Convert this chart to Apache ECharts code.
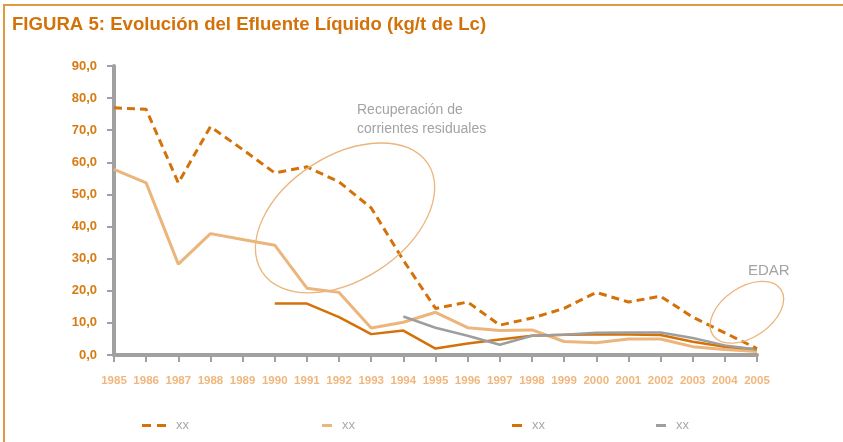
<!DOCTYPE html>
<html>
<head>
<meta charset="utf-8">
<script src="https://cdn.jsdelivr.net/npm/echarts@6/dist/echarts.min.js"></script>
<style>
html,body{margin:0;padding:0;background:#fff;}
#c{width:843px;height:442px;}
</style>
</head>
<body>
<div id="c"></div>
<script>
const years = ['1985','1986','1987','1988','1989','1990','1991','1992','1993','1994','1995','1996','1997','1998','1999','2000','2001','2002','2003','2004','2005'];
const seriesDashed = [77.0, 76.5, 53.6, 71.1, 64.0, 56.7, 58.6, 53.9, 45.8, 29.5, 14.5, 16.5, 9.3, 11.5, 14.5, 19.5, 16.5, 18.3, 11.8, 6.9, 2.0];
const seriesLight  = [57.8, 53.6, 28.3, 37.8, 36.0, 34.2, 20.8, 19.5, 8.4, 10.2, 13.3, 8.5, 7.6, 7.8, 4.2, 3.8, 5.0, 5.0, 2.6, 1.7, 1.1];
const seriesDark   = [null, null, null, null, null, 16.0, 16.0, 11.8, 6.5, 7.6, 2.0, 3.6, 4.8, 6.0, 6.3, 6.4, 6.4, 6.2, 4.1, 2.6, 1.8];
const seriesGray   = [null, null, null, null, null, null, null, null, null, 12.0, 8.5, 6.0, 3.2, 6.0, 6.3, 6.9, 7.0, 7.0, 5.3, 3.0, 1.7];
const legendNames = ['xx','xx','xx','xx'];
const titleText = 'FIGURA 5: Evolución del Efluente Líquido (kg/t de Lc)';

const C_DARK = '#d4720a', C_LIGHT = '#ebb57b', C_GRAY = '#9e9e9e', C_AXIS = '#a0a0a0';

const chart = echarts.init(document.getElementById('c'));
function mkLegend(seriesName, label, left, dashed, color) {
  return {
    data: [seriesName], left: left, top: 414,
    itemWidth: dashed ? 24 : 10, itemHeight: 3,
    icon: dashed ? 'path://M0,0h9v3h-9z M15,0h9v3h-9z' : 'rect',
    itemStyle: {color: color},
    formatter: () => label,
    textStyle: {color: '#a9a9a9', fontSize: 13, fontFamily: 'Liberation Sans', padding: [0,0,0,5]},
    selectedMode: false
  };
}
const option = {
  animation: false,
  title: {text: titleText, left: 7, top: 10,
    textStyle: {fontFamily: 'Liberation Sans', fontWeight: 'bold', fontSize: 18.6, color: C_DARK}},
  grid: {left: 114, right: 86, top: 66, bottom: 87},
  legend: [
    mkLegend('A', legendNames[0], 137, true, C_DARK),
    mkLegend('B', legendNames[1], 317, false, C_LIGHT),
    mkLegend('C', legendNames[2], 507, false, C_DARK),
    mkLegend('D', legendNames[3], 651, false, C_GRAY)
  ],
  xAxis: {
    type: 'category', data: years, boundaryGap: false,
    axisLine: {lineStyle: {color: C_AXIS, width: 4}},
    axisTick: {show: true, length: 7, lineStyle: {color: C_AXIS, width: 2}},
    axisLabel: {interval: 0, margin: 20, color: '#f0b67c', fontSize: 11.5, fontWeight: 'bold', fontFamily: 'Liberation Sans'}
  },
  yAxis: {
    type: 'value', min: 0, max: 90, interval: 10,
    splitLine: {show: false},
    axisLine: {show: true, lineStyle: {color: C_AXIS, width: 4}},
    axisTick: {show: true, length: 7, lineStyle: {color: C_AXIS, width: 2}},
    axisLabel: {margin: 17, color: '#d87a12', fontSize: 13, fontWeight: 'bold', fontFamily: 'Liberation Sans',
      formatter: v => v.toFixed(1).replace('.', ',')}
  },
  series: [
    {name: 'A', type: 'line', data: seriesDashed, symbol: 'none', z: 5,
      lineStyle: {color: C_DARK, width: 3, type: [8,5]}, itemStyle: {color: C_DARK}},
    {name: 'B', type: 'line', data: seriesLight, symbol: 'none', z: 3,
      lineStyle: {color: C_LIGHT, width: 3}, itemStyle: {color: C_LIGHT}},
    {name: 'C', type: 'line', data: seriesDark, symbol: 'none', z: 4,
      lineStyle: {color: C_DARK, width: 2.5}, itemStyle: {color: C_DARK}},
    {name: 'D', type: 'line', data: seriesGray, symbol: 'none', z: 4,
      lineStyle: {color: C_GRAY, width: 2.5}, itemStyle: {color: C_GRAY}}
  ]
};
chart.setOption(option);

const p1 = chart.convertToPixel({gridIndex: 0}, ['1992', 42.7]);
const p2 = chart.convertToPixel({gridIndex: 0}, ['2004', 13.3]);
chart.setOption({
  graphic: [
    {type: 'line', shape: {x1: 3, y1: 5, x2: 843, y2: 5}, style: {stroke: '#e3993f', lineWidth: 2}, silent: true},
    {type: 'line', shape: {x1: 4, y1: 5, x2: 4, y2: 442}, style: {stroke: '#e3993f', lineWidth: 2}, silent: true},
    {type: 'ellipse', x: p1[0] + 6, y: p1[1], rotation: 33 * Math.PI / 180,
      shape: {cx: 0, cy: 0, rx: 99, ry: 62}, style: {fill: 'none', stroke: C_LIGHT, lineWidth: 1.3}, z: 10},
    {type: 'ellipse', x: p2[0] + 22, y: p2[1], rotation: 34 * Math.PI / 180,
      shape: {cx: 0, cy: 0, rx: 41, ry: 25}, style: {fill: 'none', stroke: C_LIGHT, lineWidth: 1.3}, z: 10},
    {type: 'text', left: 357, top: 101, z: 10,
      style: {text: 'Recuperación de\ncorrientes residuales', fill: '#a3a3a3', fontSize: 14, lineHeight: 19, fontFamily: 'Liberation Sans'}},
    {type: 'text', left: 748, top: 263, z: 10,
      style: {text: 'EDAR', fill: '#a3a3a3', fontSize: 15, fontFamily: 'Liberation Sans'}}
  ]
});
</script>
</body>
</html>
